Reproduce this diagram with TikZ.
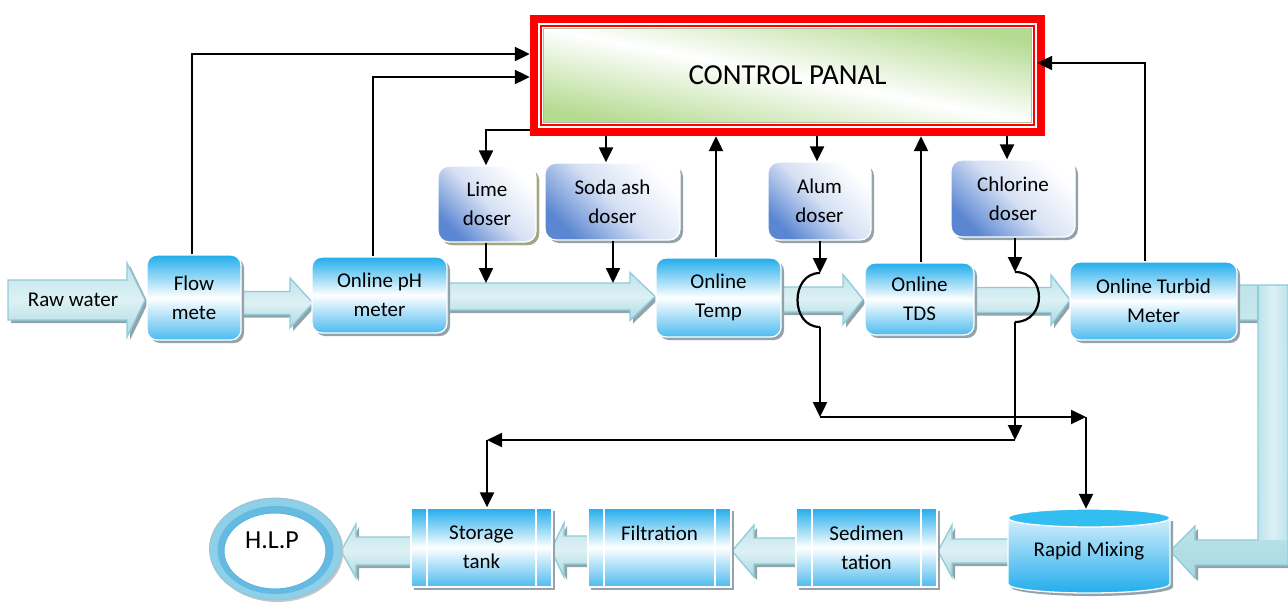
\documentclass[tikz,border=0pt]{standalone}
\usepackage{fontspec}
\setmainfont{Carlito}
\usetikzlibrary{arrows.meta,shadows,calc}
\definecolor{boxblue}{HTML}{22ADEC}
\definecolor{boxblueb}{HTML}{4DBBF0}
\definecolor{dosblue}{HTML}{5B86D2}
\definecolor{arrtop}{HTML}{BFE4EB}
\definecolor{arrmid}{HTML}{DDF1F4}
\definecolor{arrbot}{HTML}{A9D9E2}
\definecolor{arrdraw}{HTML}{8FCCD9}
\definecolor{shadowc}{HTML}{93A3AC}
\definecolor{oliveshad}{HTML}{A3A683}
\definecolor{pgreen}{HTML}{B5DB92}
\definecolor{cylblue}{HTML}{33BEF2}
\definecolor{ringblue}{HTML}{8DD0E8}
\definecolor{ringdark}{HTML}{5AB5DE}
\newcommand{\bkArrR}[6]{\path[blockarr] (#1,#3-#4) -- (#2-#6,#3-#4) -- (#2-#6,#3-#5) -- (#2,#3) -- (#2-#6,#3+#5) -- (#2-#6,#3+#4) -- (#1,#3+#4) -- cycle;}
\newcommand{\bkArrL}[6]{\path[blockarr] (#1,#3-#4) -- (#2+#6,#3-#4) -- (#2+#6,#3-#5) -- (#2,#3) -- (#2+#6,#3+#5) -- (#2+#6,#3+#4) -- (#1,#3+#4) -- cycle;}
\begin{document}
\begin{tikzpicture}[x=1pt,y=-1pt,
  conn/.style={-{Triangle[length=15pt,width=14pt]}, line width=2.2pt, black},
  plainline/.style={line width=2.2pt, black},
  shad/.style={drop shadow={shadow xshift=3pt,shadow yshift=-3pt,fill=shadowc,opacity=1}},
  blockarr/.style={draw=arrdraw, line width=1.3pt, top color=arrtop, bottom color=arrbot, middle color=arrmid, shad},
  txt/.style={align=center, font=\fontsize{21pt}{29pt}\selectfont},
  mainbox/.style={rectangle, rounded corners=10pt, draw=white, line width=1.3pt, top color=boxblue, bottom color=boxblueb, middle color=white, shad, txt, inner sep=0pt},
  dosbox/.style={rectangle, rounded corners=11pt, draw=white, line width=1.3pt, top color=white, bottom color=dosblue, middle color=dosblue!25!white, shading angle=-45, shad, txt, inner sep=0pt},
  procbox/.style={rectangle, draw=white, line width=1.3pt, top color=boxblue, bottom color=boxblueb, middle color=white, shad, txt, inner sep=0pt,
    path picture={\draw[white,line width=1.3pt] ([xshift=16pt]path picture bounding box.north west) -- ([xshift=16pt]path picture bounding box.south west);
                  \draw[white,line width=1.3pt] ([xshift=-16pt]path picture bounding box.north east) -- ([xshift=-16pt]path picture bounding box.south east);}},
]
\useasboundingbox (0,0) rectangle (1288,603);
\fill[white] (0,0) rectangle (1288,603);

% ---------- block (flow) arrows ----------
\bkArrR{8}{145}{300}{20}{37}{18}
\bkArrR{235}{313}{303}{11.5}{25}{23}
\bkArrR{440}{655}{296.5}{13.5}{24}{25}
\bkArrR{775}{863}{299.5}{12.5}{25}{20}
\bkArrR{968}{1070}{300}{12.5}{25}{19}
\path[blockarr] (1230,285) -- (1288,285) -- (1288,565) -- (1195,565) -- (1195,578) -- (1170,551) -- (1195,526) -- (1195,540) -- (1258,540) -- (1258,320) -- (1230,320) -- cycle;
\shade[left color=arrtop, right color=arrtop, middle color=arrmid] (1259,286) rectangle (1287,539);
\draw[arrdraw,line width=1.3pt] (1258,285) -- (1258,320);
\bkArrL{415}{341}{551}{14}{27}{15}
\bkArrL{592}{551}{550}{14}{27}{13}
\bkArrL{800}{732}{551}{13}{26}{22}
\bkArrL{1012}{938}{551}{12}{26}{14}
\node[txt] (raw) at (73,300) {Raw water};

% ---------- control panel ----------
\node[fill=red, minimum width=515pt, minimum height=121pt, inner sep=0pt,
  path picture={
    \fill[white] ([shift={(8pt,-8pt)}]path picture bounding box.north west) rectangle ([shift={(-8pt,8pt)}]path picture bounding box.south east);
    \draw[red,line width=1.5pt] ([shift={(11pt,-11pt)}]path picture bounding box.north west) rectangle ([shift={(-11pt,11pt)}]path picture bounding box.south east);
    \shade[top color=pgreen, bottom color=pgreen, middle color=white, shading angle=-11, draw=pgreen!70!black!60, line width=0.8pt] ([shift={(13.5pt,-13.5pt)}]path picture bounding box.north west) rectangle ([shift={(-13.5pt,13.5pt)}]path picture bounding box.south east);
  },
  font=\fontsize{29pt}{34pt}\selectfont] (panel) at (787.5,75.5) {CONTROL PANAL};
\coordinate (pe) at ([xshift=-8pt]panel.east);

% ---------- main row ----------
\node[mainbox, minimum width=94pt, minimum height=85pt] (flow) at (194,297.5) {Flow\\mete};
\node[mainbox, minimum width=135pt, minimum height=76pt] (ph) at (379.5,295) {Online pH\\meter};
\node[mainbox, minimum width=125pt, minimum height=79pt] (temp) at (718.5,297.5) {Online\\Temp};
\node[mainbox, minimum width=109pt, minimum height=72pt] (tds) at (919.5,299) {Online\\TDS};
\node[mainbox, minimum width=167pt, minimum height=78pt] (turb) at (1153.5,301) {Online Turbid\\Meter};

% ---------- dosers ----------
\node[dosbox, drop shadow={shadow xshift=3pt,shadow yshift=-3pt,fill=oliveshad,opacity=1}, minimum width=98pt, minimum height=76pt] (lime) at (487,204) {Lime\\doser};
\node[dosbox, minimum width=135pt, minimum height=77pt] (soda) at (612.5,201.5) {Soda ash\\doser};
\node[dosbox, minimum width=103pt, minimum height=78pt] (alum) at (819.5,201) {Alum\\doser};
\node[dosbox, minimum width=124pt, minimum height=77pt] (chlor) at (1013,198.5) {Chlorine\\doser};

% ---------- bottom row ----------
\node[procbox, minimum width=141pt, minimum height=79pt] (store) at (481.5,547.5) {Storage\\tank};
\node[procbox, minimum width=143pt, minimum height=79pt] (filt) at (659.5,547.5) {Filtration\\~};
\node[procbox, minimum width=141pt, minimum height=79pt] (sed) at (866.5,547.5) {Sedimen\\tation};

% rapid mixing cylinder
\fill[shadowc] (1011,521) -- (1011,587) arc[start angle=180,end angle=360,x radius=81pt,y radius=9pt] -- (1173,521) -- cycle;
\path[top color=boxblue!20!white, middle color=white, bottom color=boxblue, draw=white, line width=1.3pt]
  (1008,518) -- (1008,584) arc[start angle=180,end angle=360,x radius=81pt,y radius=9pt] -- (1170,518) -- cycle;
\path[fill=cylblue, draw=white, line width=1.3pt] (1089,518) ellipse [x radius=81pt, y radius=9pt];
\node[txt, minimum width=162pt, minimum height=84pt, inner sep=0pt] (rapid) at (1089,551) {\raisebox{3pt}{Rapid Mixing}};

% H.L.P ring
\fill[shadowc!60] (277.5,551) ellipse [x radius=66pt, y radius=51pt];
\path[fill=ringblue, draw=ringblue!80!black!70, line width=0.8pt] (275.5,549) ellipse [x radius=66pt, y radius=51pt];
\path[fill=ringdark!80!ringblue] (275.5,550) ellipse [x radius=58pt, y radius=44pt];
\path[fill=white, draw=ringdark, line width=1pt] (275,551) ellipse [x radius=51pt, y radius=38pt];
\node[font=\fontsize{26pt}{30pt}\selectfont] (hlp) at (272,540) {H.L.P};

% ---------- control connectors ----------
\draw[conn] (flow.north -| 192,0) |- (panel.west |- 0,54);
\draw[conn] (ph.north -| 373,0) |- (panel.west |- 0,77);
\draw[conn] (turb.north -| 1145,0) |- (pe |- 0,63);
\draw[conn] (panel.west |- 0,130) -| (lime.north -| 486,0);
\draw[conn] (panel.south -| 606,0) -- (soda.north -| 606,0);
\draw[conn] (temp.north -| 716,0) -- (panel.south -| 716,0);
\draw[conn] (panel.south -| 817,0) -- (alum.north -| 817,0);
\draw[conn] (tds.north -| 921,0) -- (panel.south -| 921,0);
\draw[conn] (panel.south -| 1007,0) -- (chlor.north -| 1007,0);

% dosing lines
\coordinate (limein) at (486,283);
\coordinate (sodain) at (613,283);
\draw[conn] (lime.south -| 486,0) -- (limein);
\draw[conn] (soda.south -| 613,0) -- (sodain);

\coordinate (alumin) at (820,273);
\coordinate (alumout) at (820,327);
\coordinate (alumj) at (820,417);
\coordinate (mixj) at (1086,417);
\draw[conn] (alum.south -| 820,0) -- (alumin);
\draw[plainline] (alumin) .. controls (790,273) and (790,327) .. (alumout);
\draw[conn] (alumout) -- (alumj);
\draw[conn] (alumj) -- (mixj);
\draw[conn] (mixj) -- (rapid.north -| mixj);

\coordinate (clin) at (1015,272);
\coordinate (clout) at (1015,322);
\coordinate (clj) at (1015,440);
\coordinate (stj) at (487,440);
\draw[conn] (chlor.south -| 1015,0) -- (clin);
\draw[plainline] (clin) .. controls (1047,272) and (1047,322) .. (clout);
\draw[conn] (clout) -- (clj);
\draw[conn] (clj) -- (stj);
\draw[conn] (stj) -- (store.north -| stj);
\end{tikzpicture}
\end{document}
